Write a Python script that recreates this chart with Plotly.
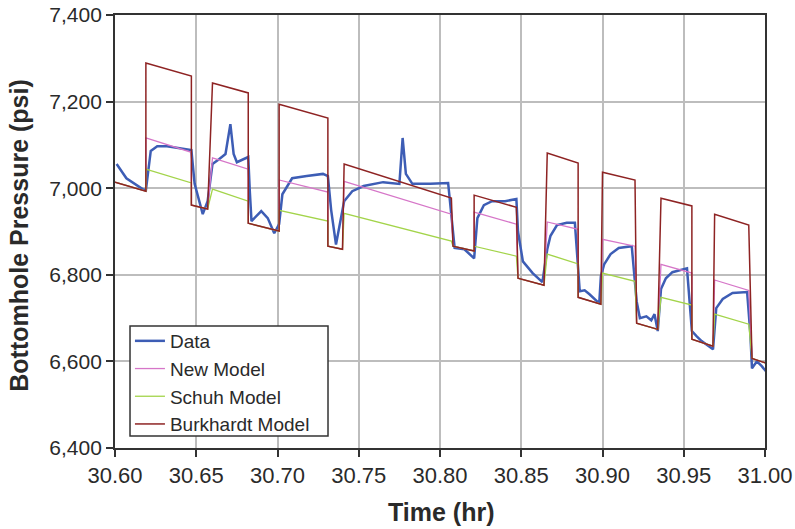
import plotly.graph_objects as go

# ---------------- data ----------------
data_t = [30.601, 30.607, 30.617, 30.619, 30.622, 30.626, 30.632, 30.647, 30.649, 30.654,
          30.657, 30.660, 30.664, 30.668, 30.671, 30.673, 30.675, 30.682, 30.683, 30.684,
          30.690, 30.694, 30.698, 30.701, 30.703, 30.709, 30.718, 30.728, 30.731, 30.733,
          30.736, 30.738, 30.741, 30.746, 30.753, 30.765, 30.775, 30.777, 30.779, 30.783,
          30.794, 30.805, 30.809, 30.815, 30.821, 30.823, 30.827, 30.832, 30.840, 30.847,
          30.848, 30.851, 30.857, 30.863, 30.866, 30.868, 30.872, 30.878, 30.883, 30.886,
          30.889, 30.892, 30.898, 30.899, 30.901, 30.905, 30.910, 30.918, 30.921, 30.923,
          30.927, 30.930, 30.932, 30.934, 30.936, 30.939, 30.943, 30.952, 30.955, 30.958,
          30.961, 30.968, 30.970, 30.974, 30.980, 30.989, 30.991, 30.992, 30.995, 30.998,
          31.003]
data_p = [7056, 7023, 6998, 6995, 7086, 7097, 7097, 7088, 7010, 6940,
          6970, 7056, 7067, 7079, 7148, 7079, 7060, 7072, 6990, 6924,
          6947, 6931, 6896, 6917, 6986, 7023, 7028, 7033, 7028, 6950,
          6870, 6908, 6970, 6993, 7005, 7014, 7010, 7116, 7033, 7010,
          7010, 7012, 6862, 6859, 6838, 6931, 6961, 6970, 6970, 6975,
          6900, 6831, 6804, 6783, 6859, 6890, 6915, 6920, 6920, 6762,
          6764, 6755, 6734, 6797, 6824, 6848, 6862, 6866, 6739, 6700,
          6704, 6695, 6709, 6670, 6767, 6792, 6806, 6815, 6670, 6658,
          6647, 6628, 6723, 6744, 6758, 6760, 6663, 6584, 6600, 6589,
          6566]

burk_t = [30.600, 30.619, 30.619, 30.647, 30.647, 30.657, 30.660, 30.682, 30.682, 30.701,
          30.701, 30.731, 30.731, 30.740, 30.741, 30.807, 30.808, 30.821, 30.821, 30.847,
          30.848, 30.864, 30.866, 30.885, 30.885, 30.899, 30.900, 30.920, 30.921, 30.934,
          30.936, 30.955, 30.955, 30.968, 30.969, 30.990, 30.992, 31.003]
burk_p = [7014, 6993, 7289, 7259, 6961, 6952, 7243, 7220, 6919, 6901,
          7194, 7162, 6866, 6859, 7056, 6977, 6866, 6855, 6984, 6956,
          6792, 6776, 7081, 7058, 6748, 6732, 7037, 7019, 6688, 6674,
          6977, 6959, 6651, 6635, 6940, 6915, 6607, 6593]

new_p = [7014, 6993, 7116, 7083, 6961, 6952, 7070, 7044, 6919, 6901,
         7019, 6991, 6866, 6859, 7016, 6940, 6866, 6855, 6945, 6917,
         6792, 6776, 6922, 6905, 6748, 6732, 6882, 6866, 6688, 6674,
         6824, 6804, 6651, 6635, 6788, 6764, 6607, 6593]

schuh_p = [7014, 6993, 7044, 7012, 6961, 6952, 6998, 6970, 6919, 6901,
           6949, 6924, 6866, 6859, 6942, 6878, 6866, 6855, 6866, 6843,
           6792, 6776, 6848, 6825, 6748, 6732, 6804, 6785, 6688, 6674,
           6748, 6730, 6651, 6635, 6709, 6686, 6607, 6593]

x_ticks = [30.60, 30.65, 30.70, 30.75, 30.80, 30.85, 30.90, 30.95, 31.00]
y_ticks = [6400, 6600, 6800, 7000, 7200, 7400]

x_title = "Time (hr)"
y_title = "Bottomhole Pressure (psi)"

# ---------------- figure ----------------
fig = go.Figure()
fig.add_trace(go.Scatter(x=data_t, y=data_p, mode="lines", name="Data",
                         line=dict(color="#3d5db5", width=2.5), cliponaxis=False))
fig.add_trace(go.Scatter(x=burk_t, y=new_p, mode="lines", name="New Model",
                         line=dict(color="#d676c8", width=1.3), cliponaxis=False))
fig.add_trace(go.Scatter(x=burk_t, y=schuh_p, mode="lines", name="Schuh Model",
                         line=dict(color="#a3d44a", width=1.3), cliponaxis=False))
fig.add_trace(go.Scatter(x=burk_t, y=burk_p, mode="lines", name="Burkhardt Model",
                         line=dict(color="#8e2323", width=1.5), cliponaxis=False))

font_fam = "Liberation Sans, Arial, sans-serif"
txt_col = "#2a2a2a"
fig.update_layout(
    width=795, height=529,
    margin=dict(l=115, r=30, t=15, b=81),
    paper_bgcolor="white", plot_bgcolor="white",
    font=dict(family=font_fam, size=21, color=txt_col),
    showlegend=True,
    legend=dict(x=0.023, y=0.291, xanchor="left", yanchor="top",
                bgcolor="rgba(0,0,0,0)", borderwidth=0,
                font=dict(size=19, color=txt_col), itemwidth=30,
                tracegroupgap=0),
    shapes=[
        dict(type="rect", xref="paper", yref="paper",
             x0=0.0231, x1=0.3277, y0=0.0277, y1=0.2818, layer="above",
             fillcolor="white", line=dict(color="#333333", width=1.5)),
    ],
    annotations=[
        dict(text=f"<b>{x_title}</b>", xref="paper", yref="paper",
             x=0.503, y=-0.148, xanchor="center", yanchor="middle",
             showarrow=False, font=dict(size=25, color=txt_col)),
        dict(text=f"<b>{y_title}</b>", xref="paper", yref="paper",
             x=-0.148, y=0.492, xanchor="center", yanchor="middle",
             textangle=-90, showarrow=False, font=dict(size=25, color=txt_col)),
    ],
)
fig.update_xaxes(range=[30.60, 31.00], tickvals=x_ticks,
                 ticktext=[f"{v:.2f}" for v in x_ticks], automargin=False,
                 showgrid=True, gridcolor="#bdbdbd", gridwidth=1.8,
                 showline=True, linecolor="#333333", linewidth=1.8, mirror=True,
                 ticks="outside", ticklen=7, tickcolor="#333333", tickwidth=1.5,
                 zeroline=False, tickfont=dict(size=22))
fig.update_yaxes(range=[6400, 7400], tickvals=y_ticks,
                 ticktext=[f"{v:,}" for v in y_ticks], automargin=False,
                 showgrid=True, gridcolor="#bdbdbd", gridwidth=1.8,
                 showline=True, linecolor="#333333", linewidth=1.8, mirror=True,
                 ticks="outside", ticklen=7, tickcolor="#333333", tickwidth=1.5,
                 zeroline=False, tickfont=dict(size=21))

fig.write_html("out.html")
